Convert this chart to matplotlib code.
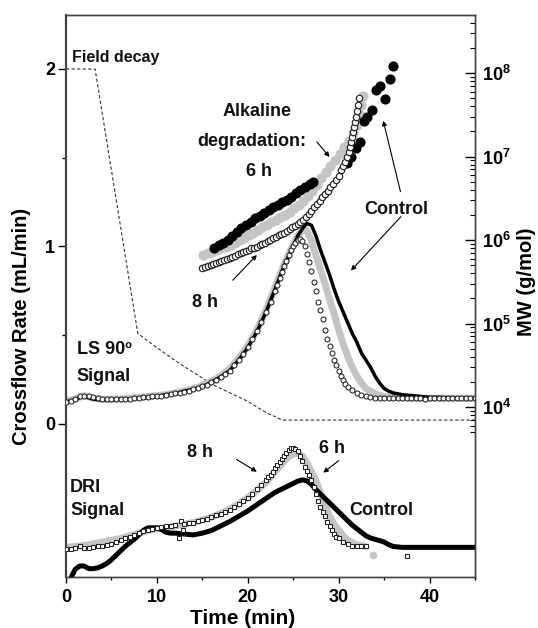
import matplotlib
matplotlib.use('Agg')
import matplotlib.pyplot as plt
import matplotlib.ticker as ticker
import numpy as np

plt.rcParams['font.family'] = ['Liberation Sans', 'DejaVu Sans']
plt.rcParams['font.weight'] = 'bold'
plt.rcParams['mathtext.fontset'] = 'custom'
plt.rcParams['mathtext.rm'] = 'Liberation Sans:bold'
plt.rcParams['mathtext.bf'] = 'Liberation Sans:bold'

GRAY = '#c4c4c4'

# ---- field decay programme (crossflow, mL/min)
decay_t = [0, 3.2, 7.9, 10, 12.5, 16.2, 19.9, 22, 23.8, 45]
decay_v = [2.0, 2.0, 0.51, 0.43, 0.34, 0.22, 0.13, 0.065, 0.022, 0.022]

# ---- LS 90 signal (arbitrary units, drawn on crossflow scale)
ls_ctrl_t = [0, 1, 1.5, 2, 3, 4, 5, 6, 7, 8, 9, 10, 11, 12, 13, 14, 15, 16, 17, 18, 19, 20,
             21, 22, 23, 24, 25, 25.5, 26, 26.5, 27, 27.5, 28, 28.5, 29, 29.5, 30, 30.5, 31,
             31.5, 32, 32.5, 33, 33.5, 34, 34.5, 35, 35.5, 36, 37, 38, 39, 40, 41, 42, 43, 44, 45]
ls_ctrl_v = [0.125, 0.135, 0.15, 0.155, 0.14, 0.135, 0.135, 0.14, 0.14, 0.145, 0.15, 0.155,
             0.165, 0.17, 0.185, 0.195, 0.21, 0.235, 0.265, 0.30, 0.36, 0.43, 0.52, 0.63, 0.76,
             0.89, 1.00, 1.06, 1.10, 1.13, 1.12, 1.06, 0.98, 0.91, 0.84, 0.76, 0.69, 0.63, 0.57,
             0.51, 0.46, 0.40, 0.36, 0.32, 0.27, 0.23, 0.20, 0.185, 0.175, 0.165, 0.16, 0.155,
             0.15, 0.15, 0.148, 0.146, 0.146, 0.145]

ls_6h_t = [0, 1, 2, 3, 4, 5, 6, 7, 8, 9, 10, 11, 12, 13, 14, 15, 16, 17, 18, 19, 20, 21, 22,
           23, 24, 25, 25.5, 26, 26.5, 27, 27.5, 28, 28.5, 29, 29.5, 30, 30.5, 31, 31.5, 32,
           32.5, 33, 33.5, 34, 35, 36, 38, 40, 42, 45]
ls_6h_v = [0.13, 0.14, 0.16, 0.145, 0.14, 0.14, 0.14, 0.145, 0.15, 0.155, 0.16, 0.165, 0.175,
           0.185, 0.20, 0.215, 0.24, 0.27, 0.31, 0.37, 0.44, 0.53, 0.64, 0.77, 0.90, 1.01, 1.06,
           1.09, 1.09, 1.03, 0.95, 0.87, 0.79, 0.70, 0.62, 0.53, 0.45, 0.38, 0.32, 0.27, 0.23,
           0.20, 0.185, 0.17, 0.155, 0.15, 0.145, 0.145, 0.145, 0.145]

ls_8h_t = [0, 0.5, 1, 1.5, 2, 2.5, 3, 3.5, 4, 4.5, 5, 5.5, 6, 6.5, 7, 7.5, 8, 8.5, 9, 9.5, 10,
           10.5, 11, 11.5, 12, 12.5, 13, 13.5, 14, 14.5, 15, 15.5, 16, 16.5, 17, 17.5, 18, 18.5,
           19, 19.5, 20, 20.5, 21, 21.5, 22, 22.5, 23, 23.25, 23.5, 23.75, 24, 24.25, 24.5,
           24.75, 25, 25.25, 25.5, 25.75, 26, 26.25, 26.5, 26.75, 27, 27.25, 27.5, 27.75, 28,
           28.25, 28.5, 28.75, 29, 29.25, 29.5, 29.75, 30, 30.25, 30.5, 30.75, 31, 31.5, 32,
           32.5, 33, 33.5, 34, 34.5, 35, 35.5, 36, 36.5, 37, 37.5, 38, 38.5, 39, 39.5, 40, 40.5,
           41, 41.5, 42, 42.5, 43, 43.5, 44, 44.5, 45]
ls_8h_v = [0.125, 0.13, 0.14, 0.155, 0.16, 0.155, 0.15, 0.145, 0.14, 0.14, 0.14, 0.14, 0.14,
           0.14, 0.142, 0.145, 0.147, 0.15, 0.152, 0.155, 0.158, 0.16, 0.165, 0.168, 0.172,
           0.176, 0.182, 0.188, 0.195, 0.203, 0.212, 0.222, 0.235, 0.25, 0.265, 0.283, 0.30,
           0.33, 0.36, 0.395, 0.435, 0.48, 0.525, 0.575, 0.63, 0.69, 0.75, 0.785, 0.82, 0.855,
           0.89, 0.92, 0.95, 0.98, 1.0, 1.02, 1.035, 1.04, 1.03, 1.0, 0.96, 0.91, 0.86, 0.80,
           0.75, 0.69, 0.64, 0.59, 0.53, 0.48, 0.44, 0.40, 0.36, 0.33, 0.30, 0.27, 0.245, 0.225,
           0.21, 0.19, 0.175, 0.163, 0.155, 0.15, 0.147, 0.145, 0.145, 0.146, 0.144, 0.145,
           0.147, 0.145, 0.144, 0.146, 0.145, 0.143, 0.145, 0.146, 0.144, 0.145, 0.147, 0.145,
           0.144, 0.146, 0.145, 0.144, 0.145]

# ---- molar mass, log10(MW / g/mol)
mw_ctrl_t = [16.3, 16.8, 17.3, 17.8, 18.3, 18.8, 19.3, 19.8, 20.3, 20.8, 21.3, 21.8, 22.3,
             22.8, 23.3, 23.8, 24.3, 24.8, 25.3, 25.8, 26.3, 26.8, 27.2,
             30.9, 31.4, 31.9, 32.4, 32.8, 33.1, 33.7, 34.1, 34.6, 35.1, 35.6, 36.0]
mw_ctrl_log = [5.90, 5.94, 5.97, 6.00, 6.05, 6.10, 6.14, 6.18, 6.22, 6.26, 6.29, 6.32, 6.36,
               6.39, 6.42, 6.45, 6.48, 6.52, 6.56, 6.60, 6.64, 6.67, 6.70,
               6.92, 7.00, 7.10, 7.17, 7.42, 7.47, 7.56, 7.80, 7.84, 7.69, 7.93, 8.08]

mw_6h_t = [15.1, 15.6, 16.1, 16.6, 17.1, 17.6, 18.1, 18.6, 19.1, 19.6, 20.1, 20.6, 21.1, 21.6,
           22.1, 22.6, 23.1, 23.6, 24.1, 24.6, 25.1, 25.6, 26.1, 26.6, 27.1, 27.6, 28.1, 28.6,
           29.1, 29.6, 30.1, 30.6, 31.1, 31.6, 32.0, 32.3, 32.5, 32.7]
mw_6h_log = [5.82, 5.84, 5.86, 5.88, 5.90, 5.92, 5.94, 5.97, 6.00, 6.03, 6.06, 6.09, 6.12, 6.15,
             6.18, 6.21, 6.24, 6.27, 6.30, 6.34, 6.38, 6.42, 6.47, 6.53, 6.59, 6.66, 6.74, 6.82,
             6.89, 6.96, 7.03, 7.11, 7.19, 7.28, 7.38, 7.50, 7.62, 7.72]

mw_8h_t = [15.0, 15.3, 15.6, 15.9, 16.2, 16.5, 16.8, 17.1, 17.4, 17.7, 18.0, 18.3, 18.6, 18.9,
           19.2, 19.5, 19.8, 20.1, 20.4, 20.7, 21.0, 21.3, 21.6, 21.9, 22.2, 22.5, 22.8, 23.1,
           23.4, 23.7, 24.0, 24.3, 24.6, 24.9, 25.2, 25.5, 25.8, 26.1, 26.4, 26.7, 27.0, 27.3,
           27.6, 27.9, 28.2, 28.5, 28.8, 29.1, 29.4, 29.7, 30.0, 30.3, 30.5, 30.7, 30.9, 31.1,
           31.25, 31.4, 31.5, 31.6, 31.7, 31.8, 31.9, 32.0, 32.1, 32.2]
mw_8h_log = [5.67, 5.68, 5.69, 5.70, 5.71, 5.72, 5.74, 5.75, 5.76, 5.77, 5.79, 5.80, 5.81, 5.83,
             5.84, 5.86, 5.87, 5.88, 5.90, 5.91, 5.92, 5.94, 5.95, 5.97, 5.99, 6.00, 6.02, 6.04,
             6.06, 6.07, 6.09, 6.11, 6.13, 6.15, 6.17, 6.19, 6.21, 6.24, 6.27, 6.31, 6.35, 6.39,
             6.43, 6.47, 6.51, 6.55, 6.59, 6.63, 6.67, 6.72, 6.77, 6.84, 6.89, 6.94, 6.99, 7.05,
             7.11, 7.17, 7.23, 7.29, 7.35, 7.41, 7.47, 7.54, 7.62, 7.70]

# ---- DRI signal (arbitrary units, drawn below zero of the crossflow scale)
dri_ctrl_t = [0.6, 1.0, 1.5, 2.0, 2.5, 3.0, 3.5, 4.0, 4.5, 5.0, 5.5, 6.0, 6.5, 7.0, 7.5, 8.0,
              8.5, 9.0, 9.5, 10.0, 10.5, 11.0, 11.5, 12.0, 13.0, 14.0, 15.0, 16.0, 17.0, 18.0,
              19.0, 20.0, 21.0, 22.0, 23.0, 24.0, 25.0, 25.5, 26.0, 26.5, 27.0, 27.5, 28.0,
              28.5, 29.0, 29.5, 30.0, 30.5, 31.0, 31.5, 32.0, 32.5, 33.0, 33.5, 34.0, 34.5,
              35.0, 35.5, 36.0, 37, 38, 40, 42, 45]
dri_ctrl_v = [-0.86, -0.82, -0.80, -0.80, -0.815, -0.815, -0.81, -0.80, -0.785, -0.765, -0.74,
              -0.715, -0.69, -0.67, -0.65, -0.625, -0.60, -0.585, -0.585, -0.585, -0.595, -0.61,
              -0.615, -0.615, -0.62, -0.625, -0.615, -0.60, -0.575, -0.55, -0.52, -0.49, -0.455,
              -0.42, -0.385, -0.36, -0.335, -0.322, -0.315, -0.32, -0.34, -0.37, -0.395, -0.42,
              -0.445, -0.47, -0.495, -0.52, -0.545, -0.57, -0.59, -0.61, -0.63, -0.642, -0.65,
              -0.657, -0.665, -0.68, -0.69, -0.695, -0.695, -0.695, -0.695, -0.695]

dri_6h_t = [0, 1, 2, 3, 4, 5, 6, 7, 8, 9, 10, 11, 12, 13, 14, 15, 16, 17, 18, 19, 20, 21, 22,
            23, 24, 24.5, 25, 25.5, 26, 26.5, 27, 27.5, 28, 28.5, 29, 29.5, 30, 30.5, 31, 31.5,
            32, 32.5, 33]
dri_6h_v = [-0.695, -0.69, -0.685, -0.675, -0.665, -0.655, -0.645, -0.63, -0.615, -0.60, -0.59,
            -0.585, -0.575, -0.565, -0.555, -0.54, -0.525, -0.505, -0.48, -0.45, -0.415, -0.375,
            -0.33, -0.27, -0.21, -0.185, -0.17, -0.165, -0.18, -0.22, -0.27, -0.32, -0.39,
            -0.46, -0.52, -0.565, -0.60, -0.63, -0.655, -0.67, -0.68, -0.685, -0.69]
dri_6h_out_t = [33.8]
dri_6h_out_v = [-0.74]

dri_8h_t = [0, 0.5, 1, 1.5, 2, 2.5, 3, 3.5, 4, 4.5, 5, 5.5, 6, 6.5, 7, 7.5, 8, 8.5, 9, 9.5, 10,
            10.5, 11, 11.5, 12, 12.4, 12.7, 12.9, 13, 13.5, 14, 14.5, 15, 15.5, 16, 16.5, 17,
            17.5, 18, 18.5, 19, 19.5, 20, 20.5, 21, 21.5, 22, 22.25, 22.5, 22.75, 23, 23.25,
            23.5, 23.75, 24, 24.25, 24.5, 24.75, 25, 25.25, 25.5, 25.75, 26, 26.25, 26.5, 26.75,
            27, 27.25, 27.5, 27.75, 28, 28.25, 28.5, 28.75, 29, 29.25, 29.5, 29.75, 30, 30.5,
            31, 31.5, 32, 32.5, 33, 37.5]
dri_8h_v = [-0.705, -0.705, -0.70, -0.69, -0.70, -0.70, -0.695, -0.69, -0.685, -0.68, -0.675,
            -0.665, -0.655, -0.645, -0.635, -0.625, -0.615, -0.605, -0.595, -0.59, -0.585, -0.58,
            -0.575, -0.575, -0.57, -0.64, -0.545, -0.60, -0.565, -0.56, -0.555, -0.548, -0.54,
            -0.533, -0.525, -0.515, -0.505, -0.495, -0.482, -0.468, -0.452, -0.435, -0.415,
            -0.392, -0.368, -0.342, -0.315, -0.30, -0.285, -0.268, -0.25, -0.232, -0.215, -0.198,
            -0.18, -0.163, -0.148, -0.138, -0.135, -0.14, -0.155, -0.18, -0.21, -0.24, -0.265,
            -0.29, -0.315, -0.355, -0.395, -0.435, -0.465, -0.495, -0.52, -0.55, -0.575, -0.60,
            -0.62, -0.635, -0.645, -0.665, -0.675, -0.685, -0.69, -0.69, -0.69, -0.745]

x_ticks = [0, 10, 20, 30, 40]
y_ticks = [0, 1, 2]
mw_decades = [4, 5, 6, 7, 8]


fig = plt.figure(figsize=(5.38, 6.28), dpi=100)
ax = fig.add_axes([66 / 538, 1 - 577 / 628, 409 / 538, 562 / 628])
ax.set_xlim(0, 45)
ax.set_ylim(-0.862, 2.304)

# field decay
ax.plot(decay_t, decay_v, color='#333333', lw=0.8, dashes=(3, 2))

# LS signals
ax.plot(ls_6h_t, ls_6h_v, color=GRAY, lw=5, solid_capstyle='round', zorder=2)
ax.plot(ls_ctrl_t, ls_ctrl_v, color='black', lw=2.5, solid_capstyle='round', zorder=3)
ax.plot(ls_8h_t, ls_8h_v, ls='none', marker='o', ms=3.6, mfc='white', mec='#222222',
        mew=0.75, zorder=4)

# DRI signals
ax.plot(dri_6h_t, dri_6h_v, color=GRAY, lw=5, solid_capstyle='round', zorder=2)
ax.plot(dri_6h_out_t, dri_6h_out_v, ls='none', marker='o', ms=4.5, color=GRAY, zorder=2)
ax.plot(dri_ctrl_t, dri_ctrl_v, color='black', lw=3.6, solid_capstyle='round', zorder=3)
ax.plot(dri_8h_t, dri_8h_v, ls='none', marker='s', ms=3.5, mfc='white', mec='#222222',
        mew=0.75, zorder=4)

# axes styling
ax.set_xticks(x_ticks)
ax.xaxis.set_minor_locator(ticker.MultipleLocator(5))
ax.set_yticks(y_ticks)
ax.yaxis.set_minor_locator(ticker.FixedLocator([0.5, 1.5]))
ax.tick_params(axis='x', which='major', direction='out', length=4, width=1, pad=5, labelsize=13)
ax.tick_params(axis='x', which='minor', direction='out', length=2.5, width=1)
ax.tick_params(axis='y', which='major', direction='out', length=6, width=1, pad=2, labelsize=13)
ax.tick_params(axis='y', which='minor', direction='out', length=3, width=1)
for lab in ax.get_xticklabels() + ax.get_yticklabels():
    lab.set_fontweight('bold')
for s in ax.spines.values():
    s.set_linewidth(1.0)
    s.set_color('#444444')
ax.spines['left'].set_linewidth(1.6)

# molar mass on log axis
ax2 = ax.twinx()
ax2.set_yscale('log')
ax2.set_ylim(10 ** 1.964, 10 ** 8.695)
ax2.plot(mw_6h_t, 10 ** np.array(mw_6h_log), ls='none', marker='o', ms=6.3, color=GRAY, zorder=2)
ax2.plot(mw_ctrl_t, 10 ** np.array(mw_ctrl_log), ls='none', marker='o', ms=6.3, color='black',
         zorder=3)
ax2.plot(mw_8h_t, 10 ** np.array(mw_8h_log), ls='none', marker='o', ms=4.6, mfc='white',
         mec='#222222', mew=0.85, zorder=4)

major = [10.0 ** d for d in mw_decades]
minor = [k * 10.0 ** d for d in range(3, 9) for k in range(2, 10) if 5e3 <= k * 10.0 ** d <= 5e8]
ax2.yaxis.set_major_locator(ticker.FixedLocator(major))
ax2.yaxis.set_minor_locator(ticker.FixedLocator(minor))
ax2.yaxis.set_major_formatter(ticker.FuncFormatter(lambda v, p: r'$\mathbf{10^{%d}}$' % round(np.log10(v))))
ax2.yaxis.set_minor_formatter(ticker.NullFormatter())
ax2.tick_params(axis='y', which='major', direction='in', length=7, width=1, pad=5, labelsize=13)
ax2.tick_params(axis='y', which='minor', direction='in', length=3.5, width=0.8)
for s in ax2.spines.values():
    s.set_linewidth(1.0)
    s.set_color('#444444')
ax2.spines['left'].set_visible(False)

# axis labels
fig.text(243 / 538, 1 - 619 / 628, 'Time (min)', ha='center', va='center', fontsize=15,
         fontweight='bold')
fig.text(22 / 538, 1 - 326 / 628, 'Crossflow Rate (mL/min)', ha='center', va='center',
         rotation=90, fontsize=14.5, fontweight='bold')
fig.text(527 / 538, 1 - 282 / 628, 'MW (g/mol)', ha='center', va='center', rotation=90,
         fontsize=14.5, fontweight='bold')

# annotations
kw = dict(fontweight='bold', color='#111111')
ax.text(0.62, 2.065, 'Field decay', fontsize=11.5, ha='left', va='center', **kw)
ax.text(21.0, 1.759, 'Alkaline', fontsize=13, ha='center', va='center', **kw)
ax.text(20.4, 1.590, 'degradation:', fontsize=13, ha='center', va='center', **kw)
ax.text(21.2, 1.421, '6 h', fontsize=13, ha='center', va='center', **kw)
ax.text(36.3, 1.211, 'Control', fontsize=13, ha='center', va='center', **kw)
ax.text(15.3, 0.687, '8 h', fontsize=13, ha='center', va='center', **kw)
ax.text(1.2, 0.417, 'LS 90º', fontsize=13, ha='left', va='center', **kw)
ax.text(1.2, 0.265, 'Signal', fontsize=13, ha='left', va='center', **kw)
ax.text(0.45, -0.36, 'DRI', fontsize=13, ha='left', va='center', **kw)
ax.text(0.45, -0.49, 'Signal', fontsize=13, ha='left', va='center', **kw)
ax.text(14.7, -0.163, '8 h', fontsize=13, ha='center', va='center', **kw)
ax.text(29.3, -0.138, '6 h', fontsize=13, ha='center', va='center', **kw)
ax.text(34.7, -0.485, 'Control', fontsize=13, ha='center', va='center', **kw)

arrow = dict(arrowstyle='-|>', color='black', lw=0.8, mutation_scale=7, shrinkA=0, shrinkB=0)
arrows = [((27.6, 1.589), (29.0, 1.504)),
          ((36.8, 1.309), (34.9, 1.709)),
          ((36.85, 1.168), (31.35, 0.864)),
          ((18.35, 0.81), (21.0, 0.952)),
          ((18.75, -0.199), (21.0, -0.269)),
          ((30.0, -0.207), (28.3, -0.274))]
for tail, head in arrows:
    ax.annotate('', xy=head, xytext=tail, arrowprops=arrow)

fig.savefig('out.png', dpi=100)
